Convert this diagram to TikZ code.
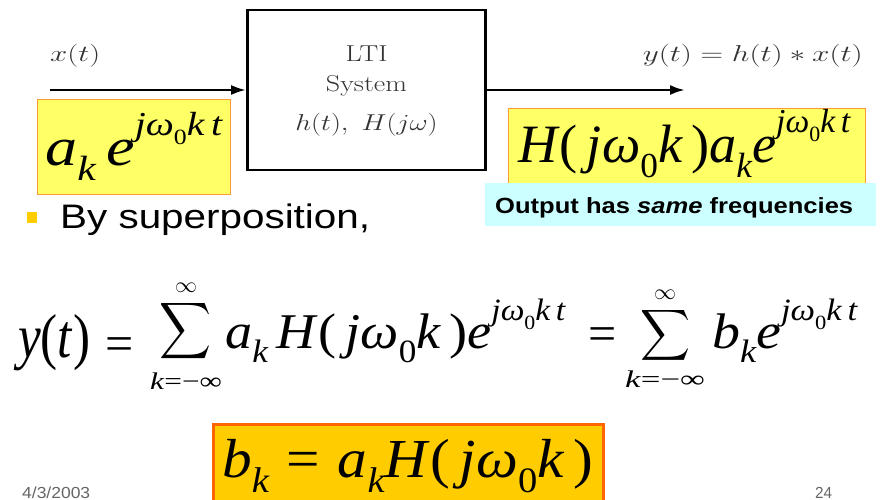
\RequirePackage{fix-cm}
\documentclass[tikz,border=0pt]{standalone}
\usepackage{amsmath}
\usepackage{graphicx}
\usepackage{fontspec}
\newfontfamily\eqfont{Liberation Serif}
\newfontfamily\slidefont{Liberation Sans}
\definecolor{boxyellow}{HTML}{FFFF66}
\definecolor{boxedge}{HTML}{FF9933}
\definecolor{notecyan}{HTML}{CCFFFF}
\definecolor{keygold}{HTML}{FFCC00}
\definecolor{keyedge}{HTML}{FF6600}
\definecolor{labelgray}{HTML}{333333}
\definecolor{footgray}{HTML}{666666}
\usetikzlibrary{positioning,arrows.meta}

% equation pieces, set in text italic
\newcommand\lo[1]{\raisebox{-0.28em}{\scalebox{0.65}{#1}}}
\newcommand\hi[1]{\raisebox{0.55em}{\scalebox{0.62}{#1}}}
\newcommand\lp{\textup{(}}
\newcommand\rp{\textup{)}}
\newcommand\Hjw{H\lp\,jω\lo{\upshape 0}k\,\rp}
\newcommand\ejw{e\hi{jω\lo{\upshape 0}k\,t}}
\newcommand\fs[1]{\fontsize{#1}{#1}\selectfont}
% stretch a piece to a given width (pt)
\newsavebox\eqbox
\newcommand\fitto[2]{\sbox\eqbox{#2}\pgfmathsetmacro\eqfac{#1/\the\wd\eqbox}\scalebox{\eqfac}[1]{\usebox\eqbox}}

\begin{document}
\begin{tikzpicture}[x=1pt, y=-1pt,
    lbl/.style={text=labelgray, inner sep=0pt, font=\fs{23}},
    sysbox/.style={draw, line width=2.8pt, minimum width=238pt, minimum height=160pt,
                   inner sep=0pt, text=labelgray, font=\fontsize{23}{30}\selectfont},
    sig/.style={-{Latex[length=15pt, width=10pt]}, line width=2.6pt},
    eq/.style={inner sep=0pt, anchor=base west},
    it/.style={font=\eqfont\itshape\fs{#1}},
    ybox/.style={fill=boxyellow, draw=boxedge, line width=0.9pt, inner sep=0pt},
    notebox/.style={fill=notecyan, inner sep=0pt, minimum width=391pt, minimum height=43pt},
    keybox/.style={fill=keygold, draw=keyedge, line width=2.6pt, inner sep=0pt},
    sigma/.style={inner sep=0pt},
    lim/.style={inner sep=0pt, font=\eqfont\itshape\fs{24}}]
  \fill[white] (0,0) rectangle (880,500);
  \useasboundingbox (0,0) rectangle (880,500);

  % block diagram
  \node[sysbox] (sys) at (366.5,90)
    {\scalebox{1.22}[1]{\begin{tabular}{@{}c@{}}LTI\\System\\[9pt]$h(t),\ H(j\omega)$\end{tabular}}};
  \coordinate (in) at (50,90);
  \coordinate (out) at (685,90);
  \draw[sig] (in) -- (sys);
  \draw[sig] (sys) -- (out);
  \node[lbl, anchor=base west] (xlab) at (50,62) {\fitto{50}{$x(t)$}};
  \node[lbl, anchor=base east] (ylab) at (863,62) {\fitto{220}{$y(t)=h(t)*x(t)$}};

  \node[ybox, minimum width=193pt, minimum height=95pt] (inbox) at (133.5,146.5) {};
  \node[eq, it=54] (inexp) at (45,165) {\fitto{177}{a\lo{k}\,\ejw}};
  \node[ybox, minimum width=357pt, minimum height=80pt] (outbox) at (686.5,148) {};
  \node[eq, it=54] (outexp) at (518,162) {\fitto{332}{\Hjw a\lo{k}\ejw}};
  \node[notebox] (note) at (680.5,204.5) {};
  \node[eq, font=\slidefont\bfseries\fs{22}] (notetxt) at (495,213)
    {\fitto{358}{Output has \textit{same} frequencies}};

  % bullet line
  \node[fill=keygold, minimum width=10pt, minimum height=11pt, inner sep=0pt] (dot) at (32,217.5) {};
  \node[eq, font=\slidefont\fs{34}] (super) at (60,228) {\fitto{310}{By superposition,}};

  % sum formula
  \node[eq, it=62] (lhs) at (18,357) {\fitto{72}{y\lp t\rp}};
  \node[eq, font=\eqfont\fs{50}] (eqA) at (105,360) {=};
  \node[sigma] (sumA) at (186,331.5) {\resizebox*{52pt}{63pt}{$\displaystyle\sum$}};
  \node[lim, font=\fs{22}, above=7pt of sumA] (infA) {$\infty$};
  \node[lim, below=9pt of sumA] (limA) {\fitto{72}{k\textup{=−∞}}};
  \node[eq, it=50] (termA) at (225,348) {\fitto{340}{a\lo{k}\,\Hjw\ejw}};
  \node[eq, font=\eqfont\fs{50}] (eqB) at (588,350) {=};
  \node[sigma] (sumB) at (665,335) {\resizebox*{50pt}{57pt}{$\displaystyle\sum$}};
  \node[lim, font=\fs{22}, above=7pt of sumB] (infB) {$\infty$};
  \node[lim, below=7pt of sumB] (limB) {\fitto{80}{k\textup{=−∞}}};
  \node[eq, it=50] (termB) at (712,348) {\fitto{145}{b\lo{k}\ejw}};

  % key result
  \node[keybox, minimum width=390pt, minimum height=78pt] (key) at (408.5,463.5) {};
  \node[eq, it=55] (keyexp) at (222,477)
    {\fitto{371}{b\lo{k}\hspace{0.3em}\textup{=}\hspace{0.3em}a\lo{k}\Hjw}};

  % footer
  \node[eq, font=\slidefont\fs{16}, text=footgray] (date) at (22,498) {\fitto{68}{4/3/2003}};
  \node[eq, font=\slidefont\fs{16}, text=footgray] (page) at (815,498) {\fitto{17}{24}};
\end{tikzpicture}
\end{document}
